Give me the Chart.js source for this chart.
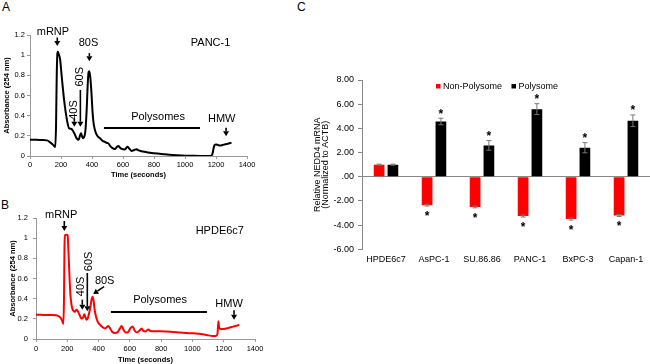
<!DOCTYPE html>
<html><head><meta charset="utf-8">
<script src="https://cdn.jsdelivr.net/npm/chart.js@4.4.1/dist/chart.umd.min.js"></script>
<style>
html,body{margin:0;padding:0;background:#fff;width:650px;height:364px;overflow:hidden;}
canvas{position:absolute;}
.lbl{position:absolute;font:12px "Liberation Sans",Arial,sans-serif;color:#000;line-height:1;}
</style></head><body>
<div class="lbl" style="left:2px;top:1px">A</div>
<div class="lbl" style="left:1px;top:199px">B</div>
<div class="lbl" style="left:297px;top:1px">C</div>
<canvas id="cA" width="300" height="182" style="left:0;top:0"></canvas>
<canvas id="cB" width="300" height="182" style="left:0;top:182px"></canvas>
<canvas id="cC" width="350" height="364" style="left:300px;top:0"></canvas>
<script>
const FONT = '"Liberation Sans", Arial, sans-serif';
Chart.defaults.font.family = FONT;
Chart.defaults.color = '#000';

// ---- Panel A: PANC-1 absorbance profile ----
const panc1Time = [0,40,80,110,130,150,163,168,172,176,179,185,194,204,219,237,252,262,270,286,301,314,322,329,336,344,352,358,366,372,378,383,389,396,403,409,417,426,440,452,468,484,495,505,517,530,548,560,570,580,591,613,628,640,656,672,688,700,720,760,800,860,920,980,1040,1100,1160,1172,1180,1186,1192,1200,1212,1226,1250,1275,1300];
const panc1Abs  = [0.16,0.16,0.158,0.155,0.135,0.11,0.09,0.3,0.75,1.0,1.035,1.01,0.96,0.80,0.57,0.37,0.275,0.27,0.265,0.225,0.175,0.16,0.2,0.225,0.195,0.175,0.2,0.26,0.47,0.7,0.83,0.84,0.78,0.64,0.45,0.34,0.27,0.225,0.19,0.175,0.15,0.14,0.13,0.126,0.1,0.08,0.07,0.09,0.1,0.085,0.07,0.065,0.092,0.075,0.05,0.06,0.068,0.055,0.048,0.035,0.027,0.018,0.01,0.005,0.002,0,0,0.005,0.04,0.09,0.11,0.115,0.11,0.103,0.113,0.122,0.133];

// ---- Panel B: HPDE6c7 absorbance profile ----
const hpdeTime = [0,30,60,100,130,150,165,175,179,182,185,195,202,208,214,220,228,239,249,258,266,278,292,300,309,316,324,332,340,348,356,362,368,375,384,395,410,424,440,452,462,472,488,505,520,535,548,560,572,585,605,618,630,645,662,675,686,700,718,732,760,800,860,920,980,1040,1090,1130,1150,1160,1166,1171,1180,1200,1230,1260,1300];
const hpdeAbs  = [0.24,0.24,0.237,0.238,0.235,0.22,0.19,0.15,0.4,0.9,1.03,1.035,1.03,0.85,0.62,0.44,0.33,0.28,0.27,0.29,0.28,0.24,0.2,0.21,0.245,0.215,0.19,0.21,0.26,0.32,0.4,0.42,0.38,0.29,0.22,0.17,0.14,0.12,0.105,0.115,0.13,0.11,0.07,0.06,0.065,0.1,0.13,0.09,0.065,0.065,0.11,0.125,0.085,0.065,0.085,0.105,0.08,0.075,0.095,0.08,0.078,0.077,0.072,0.065,0.058,0.052,0.04,0.03,0.03,0.05,0.175,0.11,0.1,0.1,0.11,0.123,0.14];

// ---- Panel C: NEDD4 mRNA ----
const cellLines      = ['HPDE6c7','AsPC-1','SU.86.86','PANC-1','BxPC-3','Capan-1'];
const nonPolysome    = [1.00,-2.35,-2.50,-3.25,-3.50,-3.20];
const nonPolysomeErr = [0.04,0.07,0.07,0.08,0.08,0.08];
const polysome       = [1.00,4.57,2.59,5.59,2.40,4.63];
const polysomeErr    = [0.04,0.27,0.40,0.45,0.42,0.48];
const significant    = [false,true,true,true,true,true];

// annotation labels (data coordinates)
const annotA = [
  {type:'text', text:'mRNP', x:148, y:1.23},
  {type:'arrow', x1:176, y1:1.175, x2:176, y2:1.09},
  {type:'text', text:'80S', x:377, y:1.12},
  {type:'arrow', x1:383, y1:1.02, x2:383, y2:0.94},
  {type:'text', text:'40S', x:284, y:0.456, rotate:true},
  {type:'arrow', x1:286, y1:0.37, x2:286, y2:0.29},
  {type:'text', text:'60S', x:321, y:0.786, rotate:true},
  {type:'arrow', x1:325, y1:0.655, x2:325, y2:0.29},
  {type:'text', text:'PANC-1', x:1165, y:1.12},
  {type:'text', text:'Polysomes', x:826, y:0.39},
  {type:'bar', x1:477, x2:1097, y:0.278},
  {type:'text', text:'HMW', x:1237, y:0.367},
  {type:'arrow', x1:1265, y1:0.28, x2:1265, y2:0.195}
];
const annotB = [
  {type:'text', text:'mRNP', x:161, y:1.226},
  {type:'arrow', x1:181, y1:1.17, x2:181, y2:1.07},
  {type:'text', text:'HPDE6c7', x:1175, y:1.074},
  {type:'text', text:'40S', x:290, y:0.522, rotate:true},
  {type:'arrow', x1:296, y1:0.39, x2:296, y2:0.29},
  {type:'text', text:'60S', x:341, y:0.77, rotate:true},
  {type:'arrow', x1:328, y1:0.655, x2:328, y2:0.274},
  {type:'text', text:'80S', x:439, y:0.578},
  {type:'arrow', x1:435, y1:0.519, x2:366, y2:0.446},
  {type:'text', text:'Polysomes', x:793, y:0.39},
  {type:'bar', x1:479, x2:1093, y:0.268},
  {type:'text', text:'HMW', x:1234, y:0.35},
  {type:'arrow', x1:1266, y1:0.285, x2:1266, y2:0.19}
];

function drawArrow(ctx, x1, y1, x2, y2){
  const ang = Math.atan2(y2-y1, x2-x1);
  const L = 5, W = 3;
  const bx = x2 - L*Math.cos(ang), by = y2 - L*Math.sin(ang);
  ctx.beginPath(); ctx.lineWidth = 1.6;
  ctx.moveTo(x1,y1); ctx.lineTo(bx,by); ctx.stroke();
  ctx.beginPath();
  ctx.moveTo(x2,y2);
  ctx.lineTo(bx + W*Math.sin(ang), by - W*Math.cos(ang));
  ctx.lineTo(bx - W*Math.sin(ang), by + W*Math.cos(ang));
  ctx.closePath(); ctx.fill();
}

const annotPlugin = {
  id:'annot',
  afterDatasetsDraw(chart, args, opts){
    const items = opts.items || [];
    const xs = chart.scales.x, ys = chart.scales.y, ctx = chart.ctx;
    ctx.save();
    ctx.fillStyle = '#000'; ctx.strokeStyle = '#000';
    for (const it of items){
      if (it.type === 'text'){
        ctx.font = (it.size || 11) + 'px ' + FONT;
        ctx.textAlign = 'center'; ctx.textBaseline = 'middle';
        const px = xs.getPixelForValue(it.x), py = ys.getPixelForValue(it.y);
        if (it.rotate){ ctx.save(); ctx.translate(px,py); ctx.rotate(-Math.PI/2); ctx.fillText(it.text,0,0); ctx.restore(); }
        else ctx.fillText(it.text, px, py);
      } else if (it.type === 'arrow'){
        drawArrow(ctx, xs.getPixelForValue(it.x1), ys.getPixelForValue(it.y1), xs.getPixelForValue(it.x2), ys.getPixelForValue(it.y2));
      } else if (it.type === 'bar'){
        ctx.beginPath(); ctx.lineWidth = 2;
        const py = ys.getPixelForValue(it.y);
        ctx.moveTo(xs.getPixelForValue(it.x1), py); ctx.lineTo(xs.getPixelForValue(it.x2), py); ctx.stroke();
      }
    }
    ctx.restore();
  }
};

function lineChart(id, times, values, color, g, items, label){
  return new Chart(document.getElementById(id), {
    type:'line',
    data:{datasets:[{label, data: times.map((t,i)=>({x:t, y:values[i]})), borderColor:color, borderWidth:2, pointRadius:0, cubicInterpolationMode:'monotone', fill:false}]},
    options:{
      responsive:false, animation:false, events:[],
      layout:{padding:{top:g.top, right:g.right, bottom:0, left:0}},
      plugins:{legend:{display:false}, tooltip:{enabled:false}, annot:{items}},
      scales:{
        x:{type:'linear', min:0, max:1400,
          ticks:{stepSize:200, font:{size:7.5}, color:'#000', padding:g.xtp, maxRotation:0, callback:v=>String(v)},
          grid:{display:true, drawOnChartArea:false, tickLength:3, tickColor:'#999'},
          border:{color:'#999'},
          title:{display:true, text:'Time (seconds)', font:{size:7.5, weight:'bold'}, color:'#000', padding:{top:0, bottom:g.xtb}},
          afterFit:s=>{s.height = g.xh;}},
        y:{min:0, max:1.2,
          ticks:{stepSize:0.2, font:{size:7.5}, color:'#000', padding:g.ytp, callback:v=>String(Math.round(v*10)/10)},
          grid:{display:true, drawOnChartArea:false, tickLength:3, tickColor:'#999'},
          border:{color:'#999'},
          title:{display:true, text:'Absorbance (254 nm)', font:{size:7.5, weight:'bold'}, color:'#000', padding:{top:g.ytt, bottom:0}},
          afterFit:s=>{s.width = g.yw;}}
      }
    },
    plugins:[annotPlugin]
  });
}

lineChart('cA', panc1Time, panc1Abs, '#000000', {top:35, right:53, xh:26, xtp:1, xtb:2.5, ytp:2, ytt:2.5, yw:30}, annotA, 'PANC-1');
lineChart('cB', hpdeTime, hpdeAbs, '#ff0000', {top:36, right:45, xh:25, xtp:2.8, xtb:0, ytp:5, ytt:8.8, yw:36}, annotB, 'HPDE6c7');

const errPlugin = {
  id:'errbars',
  afterDatasetsDraw(chart){
    const ctx = chart.ctx, ys = chart.scales.y;
    const errs = [nonPolysomeErr, polysomeErr];
    ctx.save();
    chart.data.datasets.forEach((ds, di) => {
      const meta = chart.getDatasetMeta(di);
      meta.data.forEach((el, j) => {
        const v = ds.data[j], e = errs[di][j];
        const yT = ys.getPixelForValue(v + e), yB = ys.getPixelForValue(v - e);
        ctx.strokeStyle = '#777'; ctx.lineWidth = 1;
        ctx.beginPath();
        ctx.moveTo(el.x, yT); ctx.lineTo(el.x, yB);
        ctx.moveTo(el.x-2.5, yT); ctx.lineTo(el.x+2.5, yT);
        ctx.moveTo(el.x-2.5, yB); ctx.lineTo(el.x+2.5, yB);
        ctx.stroke();
        if (significant[j]){
          ctx.fillStyle = '#000';
          ctx.font = 'bold 12px ' + FONT;
          ctx.textAlign = 'center'; ctx.textBaseline = 'alphabetic';
          const m = ctx.measureText('*');
          const half = (m.actualBoundingBoxAscent - m.actualBoundingBoxDescent)/2;
          const cy = v >= 0 ? yT - 7 : yB + 7.5;
          ctx.fillText('*', el.x, cy + half);
        }
      });
    });
    // legend
    ctx.font = '9px ' + FONT; ctx.textAlign = 'left'; ctx.textBaseline = 'middle';
    const lx = [136, 211.5];
    chart.data.datasets.forEach((ds, di) => {
      ctx.fillStyle = ds.backgroundColor;
      ctx.fillRect(lx[di], 84, 4.5, 4.5);
      ctx.fillStyle = '#000';
      ctx.fillText(ds.label, lx[di] + 7, 86.5);
    });
    ctx.restore();
  }
};

new Chart(document.getElementById('cC'), {
  type:'bar',
  data:{labels:cellLines, datasets:[
    {label:'Non-Polysome', data:nonPolysome, backgroundColor:'#ff0000'},
    {label:'Polysome', data:polysome, backgroundColor:'#000000'}
  ]},
  options:{
    responsive:false, animation:false, events:[],
    layout:{padding:{top:80, right:0, bottom:84.7, left:0}},
    datasets:{bar:{categoryPercentage:0.575, barPercentage:0.775}},
    plugins:{legend:{display:false}, tooltip:{enabled:false}},
    scales:{
      x:{grid:{display:false, drawTicks:false}, border:{display:false},
        ticks:{font:{size:9}, color:'#000', padding:5.3, maxRotation:0, autoSkip:false},
        afterFit:s=>{s.height = 30;}},
      y:{min:-6, max:8,
        ticks:{stepSize:2, font:{size:9}, color:'#000', padding:4, callback:v=> v===0 ? '.00' : v.toFixed(2)},
        grid:{display:true, drawOnChartArea:true, tickLength:4, tickColor:'#888', color:c=> (c.tick && c.tick.value===0) ? '#888' : 'rgba(0,0,0,0)'},
        border:{color:'#888'},
        title:{display:true, text:['Relative NEDD4 mRNA','(Normalized to ACTB)'], font:{size:9, lineHeight:0.95}, color:'#000', padding:{top:12.8, bottom:0}},
        afterFit:s=>{s.width = 62;}}
    }
  },
  plugins:[errPlugin]
});
</script>
</body></html>
